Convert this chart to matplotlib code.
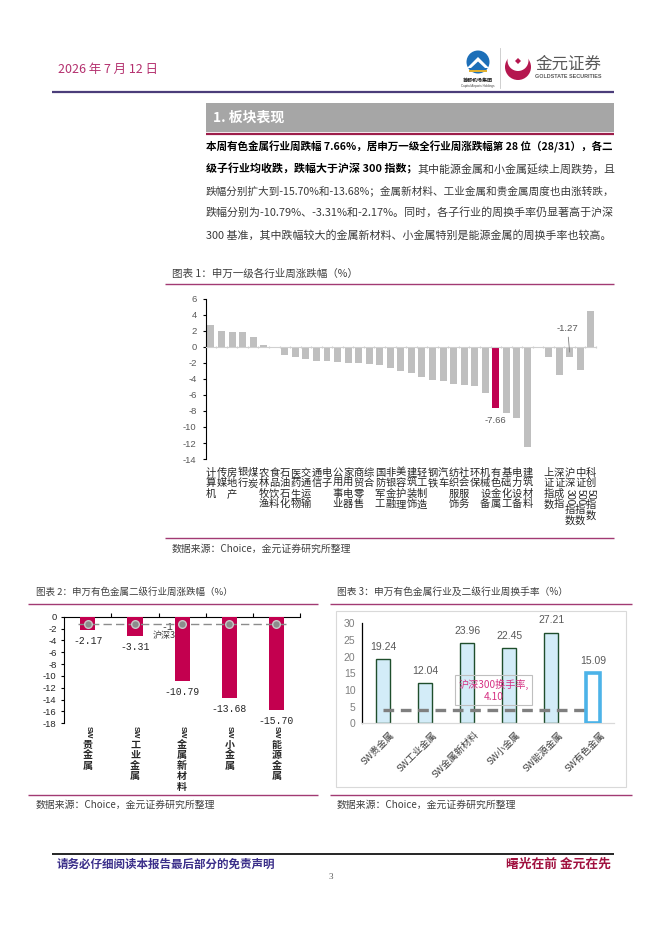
#!/usr/bin/env python3

# Import standard modules ...
import re

# Import special modules ...
import matplotlib
matplotlib.use("Agg")
import matplotlib.pyplot
import matplotlib.patches
import numpy

# ******************************************************************************

# Define data (chart 1: SW level-1 industries weekly change, then indices) ...
ind_names = ["计算机", "传媒", "房地产", "银行", "煤炭", "农林牧渔", "食品饮料", "石油石化",
             "医药生物", "交通运输", "通信", "电子", "公用事业", "家用电器", "商贸零售", "综合",
             "国防军工", "非银金融", "美容护理", "建筑装饰", "轻工制造", "钢铁", "汽车", "纺织服饰",
             "社会服务", "环保", "机械设备", "有色金属", "基础化工", "电力设备", "建筑材料"]
ind_chg = [2.75, 2.00, 1.90, 1.90, 1.30, 0.30, 0.05, -1.05, -1.20, -1.50, -1.70, -1.70,
           -1.85, -1.95, -1.95, -2.15, -2.20, -2.60, -3.00, -3.20, -3.70, -4.15, -4.20,
           -4.60, -4.70, -4.90, -5.80, -7.66, -8.30, -8.90, -12.50]
idx_names = ["上证指数", "深证成指", "沪深300指数", "中证500指数", "科创50指数"]
idx_chg = [-1.20, -3.50, -1.27, -2.86, 4.47]

# Define data (chart 2: SW non-ferrous level-2 weekly change) ...
sub_names = ["SW贵金属", "SW工业金属", "SW金属新材料", "SW小金属", "SW能源金属"]
sub_chg = [-2.17, -3.31, -10.79, -13.68, -15.70]
hs300_chg = -1.27

# Define data (chart 3: weekly turnover) ...
turn_names = ["SW贵金属", "SW工业金属", "SW金属新材料", "SW小金属", "SW能源金属", "SW有色金属"]
turn_rate = [19.24, 12.04, 23.96, 22.45, 27.21, 15.09]
hs300_turn = 4.10

# Define paragraph text ...
para = [
    [("本周有色金属行业周跌幅 7.66%，居申万一级全行业周涨跌幅第 28 位（28/31），各二", True)],
    [("级子行业均收跌，跌幅大于沪深 300 指数；", True), ("其中能源金属和小金属延续上周跌势，且", False)],
    [("跌幅分别扩大到-15.70%和-13.68%；金属新材料、工业金属和贵金属周度也由涨转跌，", False)],
    [("跌幅分别为-10.79%、-3.31%和-2.17%。同时，各子行业的周换手率仍显著高于沪深", False)],
    [("300 基准，其中跌幅较大的金属新材料、小金属特别是能源金属的周换手率也较高。", False)],
]

# ******************************************************************************

# Configure matplotlib ...
CJK = "Noto Sans CJK SC"
LAT = "Liberation Sans"
matplotlib.pyplot.rcParams["font.family"] = [CJK, "DejaVu Sans"]
matplotlib.pyplot.rcParams["axes.unicode_minus"] = False

W, H = 662.0, 936.0
fg = matplotlib.pyplot.figure(figsize = (6.62, 9.36), dpi = 100)
rd = fg.canvas.get_renderer()

# Page axes in pixel units (y downwards) ...
pg = fg.add_axes([0.0, 0.0, 1.0, 1.0])
pg.set_xlim(0.0, W)
pg.set_ylim(H, 0.0)
pg.axis("off")

def ax_px(l, t, r, b):
    return fg.add_axes([l / W, 1.0 - b / H, (r - l) / W, (b - t) / H])

def put(x, y, s, w = None, fs = 8.0, **kw):
    t = pg.text(x, y, s, fontsize = fs, va = "center", **kw)
    if w is not None:
        t.set_fontsize(fs * w / t.get_window_extent(renderer = rd).width)
    return t

def hline(x0, x1, y, color, lw):
    pg.plot([x0, x1], [y, y], color = color, lw = lw, solid_capstyle = "butt")

def para_line(y, segs, w = None, fs = 8.0):
    ts = []
    x = 206.0
    for s, bold in segs:
        t = pg.text(x, y, s, fontsize = fs, va = "center",
                    fontweight = "bold" if bold else "normal",
                    color = "#000000" if bold else "#3a3a3a")
        x += t.get_window_extent(renderer = rd).width
        ts.append(t)
    if w is not None:
        fs = fs * w / (x - 206.0)
        x = 206.0
        for t in ts:
            t.set_fontsize(fs)
            t.set_x(x)
            x += t.get_window_extent(renderer = rd).width
    return fs

def vlabel(ax, x, s, top, step, fs, lat_fs, color, weight = "normal"):
    y = top
    tr = ax.get_xaxis_transform()
    for tok in re.findall(r"[A-Za-z0-9]+|.", s):
        if re.match(r"[A-Za-z0-9]", tok):
            t = ax.annotate(tok, (x, 0.0), xycoords = tr, xytext = (0.0, 0.0),
                            textcoords = "offset points", rotation = -90, ha = "center",
                            va = "center", fontsize = lat_fs, color = color,
                            fontweight = weight, family = [LAT])
            h = t.get_window_extent(renderer = rd).height
            t.xyann = (0.0, -(y + h / 2.0) * 0.72)
            y += h + 0.5
        else:
            ax.annotate(tok, (x, 0.0), xycoords = tr, xytext = (0.0, -(y + step / 2.0) * 0.72),
                        textcoords = "offset points", ha = "center", va = "center",
                        fontsize = fs, color = color, fontweight = weight)
            y += step

# ******************************************************************************

# Header ...
put(58.0, 69.0, "2026 年 7 月 12 日", w = 100.0, fs = 9.0, color = "#b4306e")
hline(52.0, 614.0, 92.0, "#4b3d7a", 1.6)

# Capital Airports logo ...
pg.add_patch(matplotlib.patches.Circle((478.0, 62.0), 11.5, fc = "#1d6fb8", ec = "none"))
pg.add_patch(matplotlib.patches.Polygon([[467.0, 68.0], [489.0, 68.0], [478.0, 57.0]], fc = "white", ec = "none"))
pg.add_patch(matplotlib.patches.Polygon([[471.0, 68.0], [485.0, 68.0], [478.0, 61.5]], fc = "#1d6fb8", ec = "none"))
pg.add_patch(matplotlib.patches.Rectangle((469.0, 69.5), 18.0, 2.0, fc = "#e0b030", ec = "none"))
pg.text(478.0, 80.0, "首都机场集团", fontsize = 3.6, fontweight = "bold", ha = "center", va = "center", color = "#222222")
pg.text(478.0, 85.5, "Capital Airports Holdings", fontsize = 2.2, ha = "center", va = "center", color = "#444444", family = [LAT])
pg.plot([500.0, 500.0], [48.0, 88.0], color = "#c8c8c8", lw = 0.6)

# Goldstate logo ...
pg.add_patch(matplotlib.patches.Circle((518.0, 67.0), 13.0, fc = "#b5174f", ec = "none"))
pg.add_patch(matplotlib.patches.Circle((518.0, 60.5), 10.5, fc = "white", ec = "none"))
pg.add_patch(matplotlib.patches.RegularPolygon((518.0, 61.0), 4, radius = 3.0, fc = "#b5174f", ec = "none"))
put(535.0, 64.0, "金元证券", w = 66.0, fs = 10.0, color = "#595959")
put(535.0, 76.0, "GOLDSTATE SECURITIES", w = 66.0, fs = 4.0, color = "#595959", fontweight = "bold", family = [LAT])

# Section header ...
pg.add_patch(matplotlib.patches.Rectangle((206.0, 103.0), 408.0, 29.0, fc = "#a6a6a6", ec = "none"))
hline(206.0, 614.0, 133.5, "#9d1d4a", 1.6)
put(213.0, 118.0, "1. 板块表现", fs = 10.0, color = "white", fontweight = "bold")

# Paragraph ...
ys = [146.7, 169.0, 190.7, 212.7, 235.0]
fs_last = 8.0
for i, segs in enumerate(para):
    if i < len(para) - 1:
        fs_last = para_line(ys[i], segs, w = 408.0)
    else:
        para_line(ys[i], segs, fs = fs_last)

# ******************************************************************************

# Chart 1 ...
put(172.0, 274.0, "图表 1：申万一级各行业周涨跌幅（%）", w = 187.0, fs = 7.0, color = "#404040")
hline(165.0, 614.0, 284.0, "#a23a73", 1.0)
hline(165.0, 614.0, 537.7, "#a23a73", 1.0)
put(172.0, 549.0, "数据来源：Choice，金元证券研究所整理", w = 180.0, fs = 7.0, color = "#404040")

a1 = ax_px(205.7, 299.0, 596.0, 459.0)
n1 = len(ind_names) + 1 + len(idx_names)
x1 = list(range(len(ind_names))) + [len(ind_names) + 1 + i for i in range(len(idx_names))]
v1 = ind_chg + idx_chg
c1 = ["#c00050" if nm == "有色金属" else "#bfbfbf" for nm in ind_names + idx_names]
a1.bar(x1, v1, width = 0.66, color = c1, zorder = 2)
a1.set_xlim(-0.5, n1 - 0.5)
a1.set_ylim(-14.0, 6.0)
a1.patch.set_alpha(0.0)
for sp in ["top", "right"]:
    a1.spines[sp].set_visible(False)
a1.spines["left"].set_color("black")
a1.spines["left"].set_linewidth(0.8)
a1.spines["bottom"].set_position(("data", 0.0))
a1.spines["bottom"].set_color("#d0d0d0")
a1.set_xticks(numpy.arange(-0.5, n1, 1.0))
a1.set_xticklabels([])
a1.tick_params(axis = "x", length = 2.0, direction = "inout", color = "#d0d0d0")
yt1 = list(range(-14, 7, 2))
a1.set_yticks(yt1)
a1.set_yticklabels([str(t) for t in yt1], family = [LAT], fontsize = 6.8, color = "#595959")
a1.tick_params(axis = "y", length = 2.5, width = 0.8, pad = 4.0)
for nm, xx in zip(ind_names + idx_names, x1):
    vlabel(a1, xx, nm, 8.5, 10.5, 7.4, 7.0, "#262626")
k = ind_names.index("有色金属")
a1.annotate("{:.2f}".format(ind_chg[k]), (x1[k], ind_chg[k]), xytext = (0.0, -9.0),
            textcoords = "offset points", ha = "center", va = "center",
            fontsize = 6.8, color = "#595959", family = [LAT])
j = idx_names.index("沪深300指数")
a1.annotate("{:.2f}".format(idx_chg[j]), (x1[len(ind_names) + j], idx_chg[j] * 0.5),
            xytext = (-1.5, 17.0), textcoords = "offset points", ha = "center", va = "center",
            fontsize = 6.8, color = "#595959", family = [LAT],
            arrowprops = dict(arrowstyle = "-", color = "#7f7f7f", lw = 0.6, shrinkA = 1.0, shrinkB = 0.0))

# ******************************************************************************

# Chart 2 ...
put(36.0, 592.0, "图表 2：申万有色金属二级行业周涨跌幅（%）", w = 197.0, fs = 7.0, color = "#404040")
hline(28.0, 318.0, 604.0, "#a23a73", 1.0)
hline(28.0, 318.0, 795.0, "#a23a73", 1.0)
put(36.0, 805.0, "数据来源：Choice，金元证券研究所整理", w = 180.0, fs = 7.0, color = "#404040")

a2 = ax_px(64.3, 616.7, 300.0, 723.3)
x2 = numpy.arange(len(sub_names))
a2.bar(x2, sub_chg, width = 0.32, color = "#c3004f", zorder = 3)
a2.plot([x2[0] - 0.2, x2[-1] + 0.2], [hs300_chg, hs300_chg], ls = "--", dashes = (6, 3),
        color = "#8c8c8c", lw = 1.0, zorder = 4)
a2.plot(x2, [hs300_chg] * len(x2), ls = "none", marker = "o", ms = 5.5, mfc = "#8c8c8c",
        mec = "#c8c8c8", mew = 1.0, zorder = 5)
a2.set_xlim(-0.5, len(sub_names) - 0.5)
a2.set_ylim(-18.0, 0.0)
a2.patch.set_alpha(0.0)
for sp in ["bottom", "right"]:
    a2.spines[sp].set_visible(False)
for sp in ["top", "left"]:
    a2.spines[sp].set_color("black")
    a2.spines[sp].set_linewidth(0.8)
a2.xaxis.set_ticks_position("top")
a2.set_xticks(x2 + 0.5)
a2.set_xticklabels([])
a2.tick_params(axis = "x", length = 3.0, width = 0.8, direction = "out")
yt2 = list(range(-18, 1, 2))
a2.set_yticks(yt2)
a2.set_yticklabels([str(t) for t in yt2], family = [LAT], fontsize = 6.8, color = "#262626")
a2.tick_params(axis = "y", length = 2.5, width = 0.8, pad = 3.0)
for xx, v in zip(x2, sub_chg):
    a2.annotate("{:.2f}".format(v), (xx, v), xytext = (0.0, -8.0), textcoords = "offset points",
                ha = "center", va = "center", fontsize = 7.0, color = "#262626",
                family = ["Liberation Mono"])
a2.annotate("{:.2f}".format(hs300_chg), (x2[2], hs300_chg), xytext = (-4.5, -2.0),
            textcoords = "offset points", ha = "center", va = "center", fontsize = 7.0,
            color = "#404040", family = ["Liberation Mono"], zorder = 2)
a2.annotate("沪深300", (x2[2], hs300_chg), xytext = (-9.0, -8.0), textcoords = "offset points",
            ha = "center", va = "center", fontsize = 6.5, color = "#404040", zorder = 2)
for xx, nm in zip(x2, sub_names):
    vlabel(a2, xx, nm, 3.0, 10.5, 7.2, 5.6, "#262626", weight = "bold")

# ******************************************************************************

# Chart 3 ...
put(337.0, 592.0, "图表 3：申万有色金属行业及二级行业周换手率（%）", w = 231.0, fs = 7.0, color = "#404040")
hline(330.0, 632.0, 604.0, "#a23a73", 1.0)
hline(330.0, 632.0, 795.0, "#a23a73", 1.0)
put(337.0, 805.0, "数据来源：Choice，金元证券研究所整理", w = 180.0, fs = 7.0, color = "#404040")
pg.add_patch(matplotlib.patches.Rectangle((336.0, 611.0), 290.0, 175.7, fc = "none", ec = "#d9d9d9", lw = 0.8))

a3 = ax_px(362.3, 623.3, 614.3, 723.3)
x3 = numpy.arange(len(turn_names))
a3.bar(x3[:-1], turn_rate[:-1], width = 0.34, color = "#d3ecf8", edgecolor = "#1f4e2c", lw = 1.0, zorder = 2)
a3.bar(x3[-1:], turn_rate[-1:], width = 0.34, color = "white", edgecolor = "#4cb3e8", lw = 2.6, zorder = 4)
a3.plot([x3[0], x3[-1]], [hs300_turn, hs300_turn], ls = "--", dashes = (3.2, 2.0),
        color = "#7f7f7f", lw = 2.4, zorder = 3)
a3.set_xlim(-0.5, len(turn_names) - 0.5)
a3.set_ylim(0.0, 30.0)
a3.patch.set_alpha(0.0)
for sp in ["top", "right"]:
    a3.spines[sp].set_visible(False)
a3.spines["left"].set_color("black")
a3.spines["left"].set_linewidth(0.9)
a3.spines["bottom"].set_color("#d9d9d9")
a3.spines["bottom"].set_linewidth(0.9)
a3.set_xticks(x3)
a3.set_xticklabels([])
a3.tick_params(axis = "x", length = 0.0)
yt3 = list(range(0, 31, 5))
a3.set_yticks(yt3)
a3.set_yticklabels([str(t) for t in yt3], family = [LAT], fontsize = 7.5, color = "#7f7f7f")
a3.tick_params(axis = "y", length = 0.0, pad = 5.0)
for xx, v in zip(x3, turn_rate):
    a3.annotate("{:.2f}".format(v), (xx, v), xytext = (0.0, 8.8), textcoords = "offset points",
                ha = "center", va = "center", fontsize = 7.5, color = "#595959", family = [LAT])
for xx, nm in zip(x3, turn_names):
    a3.annotate(nm, (xx, 0.0), xytext = (5.0, -5.0), textcoords = "offset points", rotation = 45,
                rotation_mode = "anchor", ha = "right", va = "top", fontsize = 6.8, color = "#404040")
a3.annotate("沪深300换手率,\n4.10", (x3[2], hs300_turn), xytext = (19.0, 14.0), textcoords = "offset points",
            ha = "center", va = "center", multialignment = "center", fontsize = 7.3, color = "#d63384",
            linespacing = 1.3, zorder = 5,
            bbox = dict(boxstyle = "square,pad=0.35", fc = "none", ec = "#bfbfbf", lw = 0.8))

# ******************************************************************************

# Footer ...
hline(52.0, 614.0, 854.0, "#000000", 1.2)
put(57.0, 864.0, "请务必仔细阅读本报告最后部分的免责声明", w = 220.0, fs = 8.0, color = "#3b2f8a", fontweight = "bold")
put(611.0, 864.0, "曙光在前 金元在先", w = 105.0, fs = 8.0, color = "#a0103e", fontweight = "bold", ha = "right")
pg.text(331.0, 877.0, "3", fontsize = 6.5, ha = "center", va = "center", color = "#555555", family = ["Liberation Serif"])

# Save plot ...
fg.savefig("out.png", dpi = 100)
matplotlib.pyplot.close(fg)
